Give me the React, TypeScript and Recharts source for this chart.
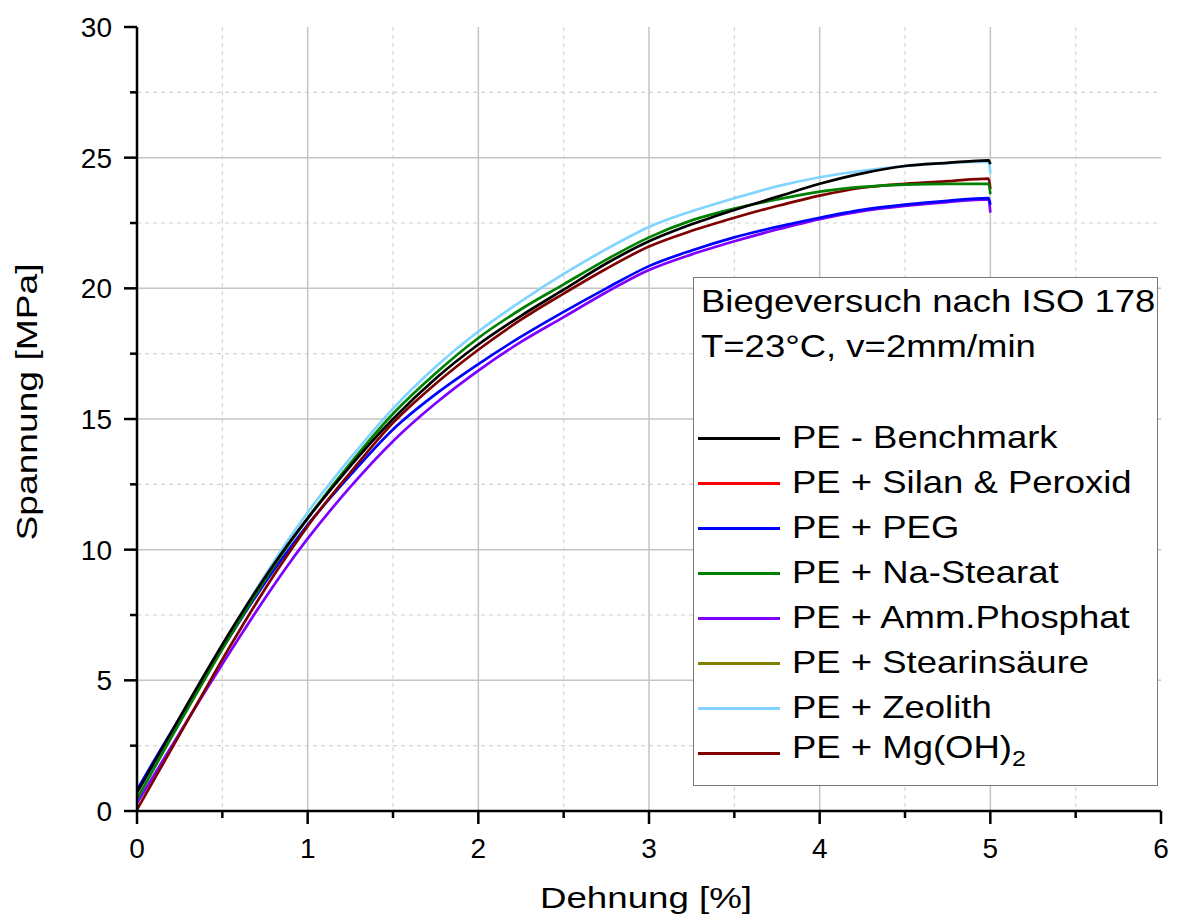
import React from "react";
import { LineChart, Line, XAxis, YAxis, CartesianGrid } from "recharts";

const FONT = "'Liberation Sans', Arial, Helvetica, sans-serif";

// strain [%] – the last two points are the peak just before break and the drop at break
const STRAIN = [0, 0.1, 0.2, 0.3, 0.4, 0.5, 0.6, 0.7, 0.8, 0.9, 1.0, 1.25, 1.5, 1.75, 2.0, 2.25, 2.5, 2.75, 3.0, 3.25, 3.5, 3.75, 4.0, 4.25, 4.5, 4.75, 4.99, 5.0];

// stress [MPa]
const BENCHMARK = [0.7, 1.85, 3.0, 4.15, 5.27, 6.37, 7.43, 8.45, 9.42, 10.34, 11.2, 13.2, 15.0, 16.55, 17.85, 18.95, 19.95, 20.95, 21.8, 22.45, 23.0, 23.5, 24.0, 24.4, 24.68, 24.8, 24.9, 24.75];
const PEG = [0.8, 1.93, 3.02, 4.1, 5.17, 6.22, 7.25, 8.25, 9.2, 10.1, 10.95, 12.85, 14.6, 15.95, 17.1, 18.15, 19.1, 20.0, 20.85, 21.45, 21.95, 22.35, 22.7, 23.0, 23.2, 23.35, 23.45, 23.2];
const NA_STEARAT = [0.45, 1.63, 2.8, 3.95, 5.08, 6.2, 7.28, 8.33, 9.35, 10.3, 11.2, 13.3, 15.2, 16.75, 18.1, 19.2, 20.15, 21.1, 21.95, 22.6, 23.05, 23.4, 23.7, 23.88, 23.97, 24.0, 24.0, 23.6];
const AMM_PHOSPHAT = [0.3, 1.38, 2.45, 3.52, 4.58, 5.62, 6.65, 7.65, 8.62, 9.55, 10.42, 12.4, 14.15, 15.6, 16.85, 17.95, 18.9, 19.85, 20.7, 21.3, 21.8, 22.25, 22.65, 22.95, 23.15, 23.3, 23.4, 22.9];
const ZEOLITH = [0.5, 1.7, 2.88, 4.05, 5.2, 6.33, 7.43, 8.5, 9.52, 10.5, 11.42, 13.5, 15.4, 17.0, 18.35, 19.5, 20.55, 21.5, 22.35, 22.95, 23.45, 23.9, 24.25, 24.5, 24.68, 24.8, 24.85, 24.4];
const MG_OH2 = [0.05, 1.2, 2.35, 3.5, 4.65, 5.8, 6.9, 7.97, 9.0, 9.97, 10.9, 12.95, 14.85, 16.35, 17.65, 18.8, 19.8, 20.75, 21.6, 22.2, 22.7, 23.15, 23.55, 23.85, 24.0, 24.1, 24.2, 23.8];

const X_TICKS = [0, 0.5, 1, 1.5, 2, 2.5, 3, 3.5, 4, 4.5, 5, 5.5, 6];
const X_GRID = [1, 2, 3, 4, 5];
const X_MINOR = [0.5, 1.5, 2.5, 3.5, 4.5, 5.5];
const Y_TICKS = [0, 2.5, 5, 7.5, 10, 12.5, 15, 17.5, 20, 22.5, 25, 27.5, 30];
const Y_GRID = [5, 10, 15, 20, 25];
const Y_MINOR = [2.5, 7.5, 12.5, 17.5, 22.5, 27.5];

// legend order
const SERIES = [
  { key: "benchmark", name: "PE - Benchmark", color: "#000000", values: BENCHMARK },
  { key: "silan", name: "PE + Silan & Peroxid", color: "#ff0000", values: null },
  { key: "peg", name: "PE + PEG", color: "#0000ff", values: PEG },
  { key: "na", name: "PE + Na-Stearat", color: "#008000", values: NA_STEARAT },
  { key: "amm", name: "PE + Amm.Phosphat", color: "#8000ff", values: AMM_PHOSPHAT },
  { key: "stearin", name: "PE + Stearinsäure", color: "#808000", values: null },
  { key: "zeolith", name: "PE + Zeolith", color: "#80d4ff", values: ZEOLITH },
  { key: "mg", name: "PE + Mg(OH)2", color: "#800000", values: MG_OH2 },
];

// drawing order (last on top)
const DRAW_ORDER = ["zeolith", "amm", "peg", "mg", "na", "benchmark"];

const data = STRAIN.map((x, i) => {
  const row: Record<string, number> = { x };
  SERIES.forEach((s) => {
    if (s.values) row[s.key] = s.values[i];
  });
  return row;
});

function XTick(props: any) {
  const { x, y, payload } = props;
  const major = Number.isInteger(payload.value);
  return (
    <g>
      <line x1={x} x2={x} y1={y} y2={y + (major ? 13 : 7)} stroke="#000" strokeWidth={2.5} />
      {major && (
        <text x={x} y={y + 27} dy="0.71em" textAnchor="middle" fontSize={28} fontFamily={FONT} fill="#000">
          {payload.value}
        </text>
      )}
    </g>
  );
}

function YTick(props: any) {
  const { x, y, payload } = props;
  const major = payload.value % 5 === 0;
  return (
    <g>
      <line x1={x} x2={x - (major ? 13 : 7)} y1={y} y2={y} stroke="#000" strokeWidth={2.5} />
      {major && (
        <text x={x - 25} y={y} dy="0.355em" textAnchor="end" fontSize={28} fontFamily={FONT} fill="#000">
          {payload.value}
        </text>
      )}
    </g>
  );
}

function LegendLabel({ name }: { name: string }) {
  if (name.endsWith(")2")) {
    return (
      <span>
        {name.slice(0, -1)}
        <sub style={{ fontSize: 22, verticalAlign: -8 }}>2</sub>
      </span>
    );
  }
  return <span>{name}</span>;
}

const stretch = { display: "inline-block", transform: "scaleX(1.14)", transformOrigin: "left center" } as const;

export default function App() {
  return (
    <div style={{ position: "absolute", left: 0, top: 0, width: 1184, height: 922, background: "#fff", fontFamily: FONT }}>
      <LineChart width={1184} height={922} data={data} margin={{ top: 27, right: 23, bottom: 51, left: 57 }}>
        <CartesianGrid
          xAxisId="main"
          yAxisId="main"
          verticalValues={X_MINOR}
          horizontalValues={Y_MINOR}
          stroke="#d4d4d4"
          strokeWidth={1.2}
          strokeDasharray="4 4"
        />
        <CartesianGrid xAxisId="main" yAxisId="main" verticalValues={X_GRID} horizontalValues={Y_GRID} stroke="#c4c4c4" strokeWidth={1.5} />

        <XAxis
          xAxisId="main"
          type="number"
          dataKey="x"
          domain={[0, 6]}
          ticks={X_TICKS}
          interval={0}
          height={60}
          tickSize={0}
          tickMargin={0}
          tickLine={false}
          tick={<XTick />}
          axisLine={{ stroke: "#000", strokeWidth: 2.5 }}
          label={() => (
            <text x={646} y={908} textAnchor="middle" fontSize={30} fontFamily={FONT} fill="#000" textLength={212} lengthAdjust="spacingAndGlyphs">
              Dehnung [%]
            </text>
          )}
        />
        <YAxis
          yAxisId="main"
          type="number"
          domain={[0, 30]}
          ticks={Y_TICKS}
          interval={0}
          width={80}
          tickSize={0}
          tickMargin={0}
          tickLine={false}
          tick={<YTick />}
          axisLine={{ stroke: "#000", strokeWidth: 2.5 }}
          label={() => (
            <text
              x={37}
              y={402}
              transform="rotate(-90 37 402)"
              textAnchor="middle"
              fontSize={30}
              fontFamily={FONT}
              fill="#000"
              textLength={277}
              lengthAdjust="spacingAndGlyphs"
            >
              Spannung [MPa]
            </text>
          )}
        />

        {DRAW_ORDER.map((key) => {
          const s = SERIES.find((d) => d.key === key)!;
          return (
            <Line
              key={key}
              xAxisId="main"
              yAxisId="main"
              type="monotone"
              dataKey={key}
              stroke={s.color}
              strokeWidth={2.7}
              dot={false}
              isAnimationActive={false}
            />
          );
        })}
      </LineChart>

      <div
        style={{
          position: "absolute",
          left: 693,
          top: 277,
          width: 463,
          height: 507,
          border: "1.5px solid #7a7a7a",
          background: "#fff",
          boxSizing: "content-box",
          fontSize: 32,
          color: "#000",
        }}
      >
        <div style={{ position: "absolute", left: 7, top: 1, lineHeight: "45px", whiteSpace: "nowrap" }}>
          <div>
            <span style={stretch}>Biegeversuch nach ISO 178</span>
          </div>
          <div>
            <span style={stretch}>T=23°C, v=2mm/min</span>
          </div>
        </div>
        {SERIES.map((s, i) => (
          <div
            key={s.key}
            style={{ position: "absolute", left: 4, top: 137 + i * 45, height: 45, display: "flex", alignItems: "center", whiteSpace: "nowrap" }}
          >
            <div style={{ width: 82, height: 3, background: s.color, marginRight: 12, marginTop: 2 }} />
            <div style={{ lineHeight: "45px" }}>
              <span style={stretch}>
                <LegendLabel name={s.name} />
              </span>
            </div>
          </div>
        ))}
      </div>
    </div>
  );
}
